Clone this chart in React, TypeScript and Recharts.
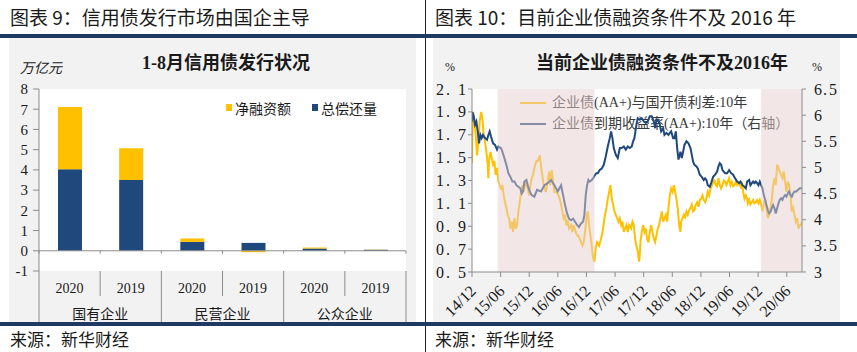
import React from 'react';
import { BarChart, Bar, XAxis, YAxis, ReferenceLine, LineChart, Line, ReferenceArea, CartesianGrid } from 'recharts';

const SERIF = '"Liberation Serif","Times New Roman","Noto Sans CJK SC",serif';
const SANS = '"Noto Sans CJK SC","Noto Sans",sans-serif';
const NAVY = '#1F497D';
const GOLD = '#FFC000';
const AXIS = '#8c8c8c';
const TEXT = '#1a1a1a';

// ---------- Chart 9 data ----------
const yearLabels = ['2020', '2019', '2020', '2019', '2020', '2019'];
const ownerGroups = ['国有企业', '民营企业', '公众企业'];
const totalRepayment = [4.03, 3.5, 0.44, 0.39, 0.11, 0.05];
const netFinancing = [3.08, 1.57, 0.17, -0.07, 0.05, 0.01];
const barTicks = [-1, 0, 1, 2, 3, 4, 5, 6, 7, 8];

// ---------- Chart 10 data (t = months since 2014/12) ----------
const dateTickMonths = [0, 6, 12, 18, 24, 30, 36, 42, 48, 54, 60, 66];
const dateTickLabels = ['14/12', '15/06', '15/12', '16/06', '16/12', '17/06', '17/12', '18/06', '18/12', '19/06', '19/12', '20/06'];
const spreadTicks = [0.5, 0.7, 0.9, 1.1, 1.3, 1.5, 1.7, 1.9, 2.1];
const yieldTicks = [3, 3.5, 4, 4.5, 5, 5.5, 6, 6.5];
const easingPeriods: [number, number][] = [[5.39, 25.68], [60.62, 69.2]];

const spreadSeries: [number, number][] = [
  [0, 1.45], [0.08, 1.7], [0.22, 1.9], [0.5, 1.82], [0.78, 1.7], [1.06, 1.52], [1.34, 1.64], [1.62, 1.82], [1.9, 1.9], [2.17, 1.85],
  [2.45, 1.7], [2.73, 1.64], [3.01, 1.55], [3.29, 1.44], [3.43, 1.32], [3.57, 1.47], [3.85, 1.55], [4.13, 1.5], [4.41, 1.44], [4.69, 1.47],
  [4.97, 1.35], [5.25, 1.41], [5.53, 1.29], [5.81, 1.26], [6.09, 1.23], [6.37, 1.26], [6.65, 1.17], [6.93, 1.11], [7.2, 1.06], [7.48, 1.0],
  [7.77, 0.97], [8.05, 0.88], [8.33, 0.94], [8.61, 0.85], [8.89, 0.97], [9.17, 0.88], [9.45, 0.91], [9.73, 1.03], [10.01, 1.11], [10.29, 1.2],
  [10.57, 1.26], [10.85, 1.2], [11.13, 1.29], [11.41, 1.26], [11.69, 1.23], [11.97, 1.17], [12.25, 1.26], [12.53, 1.32], [12.8, 1.35], [13.08, 1.41],
  [13.5, 1.47], [13.78, 1.47], [14.2, 1.52], [14.62, 1.38], [15.04, 1.26], [15.46, 1.2], [15.88, 1.29], [16.16, 1.38], [16.44, 1.26], [16.72, 1.39],
  [17.0, 1.29], [17.28, 1.2], [17.7, 1.2], [18.12, 1.17], [18.4, 1.14], [18.68, 1.09], [18.95, 1.03], [19.23, 0.97], [19.51, 1.0], [19.79, 0.91],
  [20.07, 0.94], [20.35, 0.88], [20.77, 0.91], [21.05, 0.85], [21.33, 0.91], [21.75, 0.85], [22.03, 0.82], [22.31, 0.82], [22.59, 0.79], [22.87, 0.76],
  [23.15, 0.73], [23.43, 0.76], [23.71, 0.85], [23.99, 0.97], [24.27, 1.03], [24.55, 0.91], [24.83, 0.82], [25.11, 0.73], [25.39, 0.62], [25.67, 0.59],
  [25.95, 0.71], [26.23, 0.76], [26.65, 0.73], [27.07, 0.79], [27.49, 0.88], [27.77, 0.97], [28.19, 1.06], [28.47, 1.14], [28.75, 1.2], [29.03, 1.26],
  [29.31, 1.14], [29.59, 1.09], [29.87, 1.03], [30.15, 1.0], [30.43, 0.97], [30.71, 0.94], [30.99, 0.97], [31.27, 0.91], [31.55, 0.94], [31.83, 0.85],
  [32.11, 0.88], [32.39, 0.91], [32.67, 0.85], [32.95, 0.91], [33.37, 0.88], [33.65, 0.94], [33.93, 0.91], [34.2, 0.79], [34.48, 0.73], [34.76, 0.68],
  [35.04, 0.59], [35.18, 0.65], [35.32, 0.76], [35.6, 0.85], [35.88, 0.91], [36.16, 0.85], [36.44, 0.88], [36.72, 0.79], [37.0, 0.76], [37.28, 0.85],
  [37.56, 0.91], [37.84, 0.85], [38.12, 0.79], [38.4, 0.76], [38.68, 0.82], [38.96, 0.88], [39.24, 0.91], [39.52, 0.97], [39.8, 1.03], [40.08, 0.94],
  [40.36, 0.97], [40.64, 1.0], [40.92, 0.94], [41.2, 1.06], [41.48, 1.17], [41.76, 1.23], [42.04, 1.2], [42.32, 1.26], [42.6, 1.2], [42.88, 1.14],
  [43.16, 1.05], [43.43, 0.91], [43.71, 0.85], [43.85, 0.94], [44.13, 0.97], [44.41, 1.0], [44.69, 0.98], [44.97, 1.03], [45.25, 1.0], [45.53, 1.04],
  [45.81, 1.06], [46.09, 1.09], [46.37, 1.03], [46.65, 1.04], [46.93, 1.09], [47.21, 1.11], [47.49, 1.07], [47.77, 1.13], [48.05, 1.14], [48.33, 1.17],
  [48.6, 1.13], [48.88, 1.11], [49.16, 1.14], [49.44, 1.2], [49.72, 1.17], [50.0, 1.23], [50.28, 1.25], [50.56, 1.29], [50.84, 1.3], [51.12, 1.26],
  [51.4, 1.25], [51.68, 1.32], [51.96, 1.26], [52.24, 1.23], [52.52, 1.26], [52.8, 1.3], [53.08, 1.29], [53.36, 1.26], [53.64, 1.29], [53.92, 1.32],
  [54.2, 1.26], [54.48, 1.29], [54.76, 1.25], [55.04, 1.26], [55.32, 1.29], [55.6, 1.26], [55.88, 1.28], [56.16, 1.26], [56.44, 1.23], [56.58, 1.29],
  [56.86, 1.2], [57.14, 1.14], [57.42, 1.17], [57.7, 1.14], [57.83, 1.1], [58.11, 1.13], [58.39, 1.09], [58.67, 1.11], [58.95, 1.13], [59.23, 1.1],
  [59.51, 1.11], [59.79, 1.13], [60.07, 1.1], [60.35, 1.13], [60.63, 1.09], [60.91, 1.03], [61.19, 1.09], [61.47, 1.14], [61.75, 1.06], [62.03, 0.97],
  [62.31, 1.01], [62.59, 1.06], [62.87, 1.14], [63.15, 1.26], [63.42, 1.32], [63.7, 1.26], [63.98, 1.44], [64.26, 1.41], [64.54, 1.38], [64.82, 1.35],
  [65.1, 1.32], [65.38, 1.38], [65.66, 1.29], [65.94, 1.2], [66.22, 1.29], [66.5, 1.26], [66.78, 1.17], [67.06, 1.03], [67.34, 1.06], [67.62, 1.0],
  [67.9, 0.94], [68.18, 0.97], [68.46, 0.88], [68.74, 0.91], [69.02, 0.91], [69.16, 0.94],
];

const yieldSeries: [number, number][] = [
  [0, 5.88], [0.08, 6.06], [0.36, 5.98], [0.64, 5.82], [0.92, 5.88], [1.2, 5.69], [1.48, 5.46], [1.76, 5.62], [2.03, 5.56], [2.31, 5.62],
  [2.73, 5.56], [3.15, 5.53], [3.43, 5.62], [3.71, 5.69], [3.99, 5.59], [4.41, 5.46], [4.83, 5.43], [5.25, 5.34], [5.53, 5.4], [6.09, 5.37],
  [6.37, 5.3], [6.79, 5.18], [7.2, 5.05], [7.63, 4.89], [8.05, 4.82], [8.47, 4.73], [8.89, 4.73], [9.31, 4.66], [9.73, 4.63], [10.14, 4.6],
  [10.43, 4.5], [10.71, 4.54], [10.99, 4.73], [11.41, 4.76], [11.69, 4.66], [12.1, 4.54], [12.52, 4.47], [13.08, 4.44], [13.64, 4.57], [14.48, 4.54],
  [15.18, 4.66], [15.88, 4.7], [16.58, 4.76], [17.28, 4.66], [17.98, 4.54], [18.68, 4.66], [19.1, 4.47], [19.51, 4.28], [19.93, 4.12], [20.35, 4.02],
  [20.77, 3.99], [21.19, 4.02], [21.61, 3.96], [22.03, 3.9], [22.45, 3.86], [22.87, 3.93], [23.29, 3.96], [23.57, 4.09], [23.85, 4.47], [24.13, 4.66],
  [24.41, 4.76], [24.69, 4.73], [25.11, 4.76], [25.39, 4.79], [25.81, 4.86], [26.09, 4.89], [26.37, 4.89], [26.79, 4.95], [27.21, 4.98], [27.63, 5.05],
  [28.05, 5.21], [28.47, 5.4], [28.89, 5.56], [29.17, 5.69], [29.45, 5.56], [29.73, 5.37], [30.15, 5.24], [30.57, 5.18], [30.99, 5.37], [31.41, 5.37],
  [31.83, 5.4], [32.25, 5.34], [32.67, 5.4], [33.09, 5.37], [33.5, 5.4], [33.78, 5.5], [34.06, 5.56], [34.48, 5.82], [34.76, 5.94], [35.18, 5.91],
  [35.6, 5.94], [36.02, 5.88], [36.44, 5.85], [36.86, 5.88], [37.28, 5.98], [37.7, 5.98], [38.12, 5.88], [38.4, 5.75], [38.68, 5.91], [39.1, 5.91],
  [39.38, 5.82], [39.66, 5.69], [40.08, 5.75], [40.36, 5.62], [40.78, 5.66], [41.2, 5.62], [41.48, 5.66], [41.76, 5.69], [42.18, 5.56], [42.46, 5.56],
  [42.74, 5.69], [43.02, 5.37], [43.3, 5.15], [43.71, 5.3], [43.99, 5.18], [44.27, 5.3], [44.55, 5.43], [44.97, 5.5], [45.39, 5.46], [45.81, 5.37],
  [46.09, 5.24], [46.37, 5.11], [46.65, 5.05], [47.07, 5.02], [47.35, 4.98], [47.77, 4.86], [48.18, 4.82], [48.6, 4.76], [48.88, 4.79], [49.16, 4.76],
  [49.44, 4.66], [49.86, 4.63], [50.14, 4.7], [50.56, 4.82], [50.98, 4.86], [51.4, 4.92], [51.68, 5.02], [51.96, 5.08], [52.24, 5.05], [52.52, 4.95],
  [52.8, 4.92], [53.08, 4.89], [53.5, 4.89], [53.92, 4.95], [54.34, 4.89], [54.76, 4.86], [55.18, 4.79], [55.6, 4.73], [56.02, 4.7], [56.3, 4.73],
  [56.72, 4.66], [57.14, 4.63], [57.42, 4.6], [57.7, 4.73], [58.12, 4.76], [58.39, 4.66], [58.67, 4.7], [58.95, 4.73], [59.23, 4.7], [59.51, 4.73],
  [59.79, 4.7], [60.07, 4.66], [60.35, 4.73], [60.63, 4.66], [60.91, 4.6], [61.19, 4.47], [61.47, 4.38], [61.75, 4.28], [62.03, 4.18], [62.31, 4.12],
  [62.59, 4.15], [62.87, 4.22], [63.15, 4.28], [63.42, 4.22], [63.7, 4.12], [63.98, 4.22], [64.26, 4.31], [64.54, 4.38], [64.82, 4.41], [65.1, 4.38],
  [65.38, 4.44], [65.66, 4.47], [65.94, 4.44], [66.22, 4.5], [66.5, 4.54], [66.78, 4.47], [67.06, 4.44], [67.34, 4.5], [67.62, 4.54], [68.04, 4.54],
  [68.32, 4.57], [68.74, 4.6], [69.16, 4.6],
];

// ---------- layout constants ----------
const BAR_PLOT_W = 367;
const BAR_PLOT_H = 182;
const BAND = BAR_PLOT_W / yearLabels.length;

function CatTick(p: any) {
  const { x, y, payload } = p;
  const i = Number(String(payload.value).slice(1));
  const left = x - BAND / 2;
  const right = x + BAND / 2;
  const zeroY = y - BAR_PLOT_H / 9;
  const groupStart = i % 2 === 0;
  const last = i === yearLabels.length - 1;
  return (
    <g>
      <line x1={left} x2={left} y1={y} y2={y + (groupStart ? 52 : 25)} stroke={AXIS} />
      <line x1={left} x2={left} y1={zeroY} y2={zeroY + 3} stroke={AXIS} />
      {last && <line x1={right} x2={right} y1={y} y2={y + 52} stroke={AXIS} />}
      {last && <line x1={right} x2={right} y1={zeroY} y2={zeroY + 3} stroke={AXIS} />}
      <text x={x} y={y + 17} textAnchor="middle" dominantBaseline="central" fontFamily={SERIF} fontSize={14} fill={TEXT}>
        {yearLabels[i]}
      </text>
      {groupStart && (
        <text x={right} y={y + 42} textAnchor="middle" dominantBaseline="central" fontFamily={SANS} fontSize={14} fill={TEXT}>
          {ownerGroups[i / 2]}
        </text>
      )}
    </g>
  );
}

function DateTick(p: any) {
  const { x, y, payload } = p;
  const idx = dateTickMonths.indexOf(payload.value);
  const ax = x + 5;
  const ay = y + 13;
  return (
    <text x={ax} y={ay} transform={`rotate(-45 ${ax} ${ay})`} textAnchor="end" fontFamily={SERIF} fontSize={16} fill={TEXT}>
      {dateTickLabels[idx]}
    </text>
  );
}

function splitNum(v: number) {
  const s = Number.isInteger(v) ? String(v) : v.toFixed(1);
  const [a, b] = s.split('.');
  return { a, b };
}

function LeftValTick(p: any) {
  const { x, y, payload } = p;
  const { a, b } = splitNum(payload.value);
  return (
    <text x={x} y={y} dy="0.35em" textAnchor="end" fontFamily={SERIF} fontSize={16} fill={TEXT}>
      <tspan>{a}</tspan>
      {b !== undefined && <tspan dx={2}>.</tspan>}
      {b !== undefined && <tspan dx={8}>{b}</tspan>}
    </text>
  );
}

function RightValTick(p: any) {
  const { x, y, payload } = p;
  const { a, b } = splitNum(payload.value);
  return (
    <text x={x} y={y} dy="0.35em" textAnchor="start" fontFamily={SERIF} fontSize={16} fill={TEXT}>
      <tspan>{a}</tspan>
      {b !== undefined && <tspan dx={1}>.</tspan>}
      {b !== undefined && <tspan dx={2}>{b}</tspan>}
    </text>
  );
}

const abs = (l: number, t: number, extra: React.CSSProperties = {}): React.CSSProperties => ({ position: 'absolute', left: l, top: t, ...extra });

export default function App() {
  const barData = yearLabels.map((_, i) => ({ key: `c${i}`, repay: totalRepayment[i], net: netFinancing[i] }));
  const spreadData = spreadSeries.map(([t, v]) => ({ t, v }));
  const yieldData = yieldSeries.map(([t, v]) => ({ t, v }));

  return (
    <div style={abs(0, 0, { width: 857, height: 352, background: '#fff', overflow: 'hidden', fontFamily: SANS, color: TEXT })}>
      {/* divider */}
      <div style={abs(425, 0, { width: 1, height: 352, background: '#222' })} />
      {/* titles */}
      <div style={abs(10, 5, { fontSize: 19, lineHeight: '24px', whiteSpace: 'nowrap' })}>图表 9：信用债发行市场由国企主导</div>
      <div style={abs(435, 5, { fontSize: 19, lineHeight: '24px', whiteSpace: 'nowrap' })}>图表 10：目前企业债融资条件不及 2016 年</div>
      {/* gray panels */}
      <div style={abs(9, 38, { width: 407, height: 284, background: '#F2F2F2' })} />
      <div style={abs(433, 38, { width: 407, height: 284, background: '#F2F2F2' })} />

      {/* ---------- Chart 9 ---------- */}
      <div style={abs(126, 52, { width: 200, textAlign: 'center', fontFamily: SERIF, fontWeight: 700, fontSize: 18, lineHeight: '22px', whiteSpace: 'nowrap' })}>1-8月信用债发行状况</div>
      <div style={abs(20, 58, { fontSize: 14, lineHeight: '18px', fontStyle: 'italic' })}>万亿元</div>
      <div style={abs(9, 38)}>
        <BarChart width={407} height={292} data={barData} margin={{ top: 51, right: 10, left: 0, bottom: 8 }} stackOffset="sign" barSize={24}>
          <CartesianGrid fill="#fff" stroke="none" horizontal={false} vertical={false} />
          <XAxis dataKey="key" type="category" interval={0} height={51} axisLine={false} tickLine={false} tickSize={0} tickMargin={0} tick={(p: any) => <CatTick {...p} />} />
          <YAxis domain={[-1, 8]} ticks={barTicks} interval={0} width={30} axisLine={{ stroke: AXIS }} tickLine={{ stroke: AXIS }} tickSize={6} tickMargin={5}
            tick={{ fontFamily: SERIF, fontSize: 15, fill: TEXT }} />
          <Bar dataKey="repay" stackId="s" fill={NAVY} isAnimationActive={false} />
          <Bar dataKey="net" stackId="s" fill={GOLD} isAnimationActive={false} />
          <ReferenceLine y={0} stroke={AXIS} />
        </BarChart>
      </div>
      {/* legend chart 9 */}
      <div style={abs(226, 104, { width: 6, height: 7, background: GOLD })} />
      <div style={abs(235, 98, { fontSize: 14, lineHeight: '20px', whiteSpace: 'nowrap' })}>净融资额</div>
      <div style={abs(312, 104, { width: 6, height: 7, background: NAVY })} />
      <div style={abs(321, 98, { fontSize: 14, lineHeight: '20px', whiteSpace: 'nowrap' })}>总偿还量</div>

      {/* ---------- Chart 10 ---------- */}
      <div style={abs(536, 52, { width: 200, textAlign: 'center', fontFamily: SERIF, fontWeight: 700, fontSize: 18, lineHeight: '22px', whiteSpace: 'nowrap' })}>当前企业债融资条件不及2016年</div>
      <div style={abs(445, 60, { fontSize: 12, lineHeight: '14px', fontFamily: SERIF })}>%</div>
      <div style={abs(812, 60, { fontSize: 12, lineHeight: '14px', fontFamily: SERIF })}>%</div>
      {/* plot background (below the svg so the shading tints the legend too) */}
      <div style={abs(472, 89, { width: 330, height: 183, background: '#fff' })} />
      {/* legend chart 10 */}
      <div style={abs(520, 102, { width: 26, height: 2, background: GOLD })} />
      <div style={abs(552, 94, { fontFamily: SERIF, fontSize: 14, lineHeight: '18px', whiteSpace: 'nowrap', color: '#3a3a3a' })}>企业债(AA+)与国开债利差:10年</div>
      <div style={abs(520, 123, { width: 26, height: 2, background: NAVY })} />
      <div style={abs(552, 115, { fontFamily: SERIF, fontSize: 14, lineHeight: '18px', whiteSpace: 'nowrap', color: '#3a3a3a' })}>企业债到期收益率(AA+):10年（右轴）</div>
      <div style={abs(433, 38)}>
        <LineChart width={407} height={284} margin={{ top: 51, right: 0, left: 0, bottom: 0 }}>
          <XAxis dataKey="t" type="number" domain={[0, 69.2]} allowDataOverflow ticks={dateTickMonths} interval={0} height={50}
            axisLine={{ stroke: AXIS }} tickLine={{ stroke: AXIS }} tickSize={5} tickMargin={2} tick={(p: any) => <DateTick {...p} />} />
          <YAxis yAxisId="l" domain={[0.5, 2.1]} ticks={spreadTicks} interval={0} width={39} allowDataOverflow
            axisLine={{ stroke: AXIS }} tickLine={{ stroke: AXIS }} tickSize={4} tickMargin={2} tick={(p: any) => <LeftValTick {...p} />} />
          <YAxis yAxisId="r" orientation="right" domain={[3, 6.5]} ticks={yieldTicks} interval={0} width={38} allowDataOverflow
            axisLine={{ stroke: AXIS }} tickLine={{ stroke: AXIS }} tickSize={4} tickMargin={8} tick={(p: any) => <RightValTick {...p} />} />
          <Line yAxisId="l" data={spreadData} dataKey="v" stroke={GOLD} strokeWidth={2} dot={false} isAnimationActive={false} />
          <Line yAxisId="r" data={yieldData} dataKey="v" stroke={NAVY} strokeWidth={2} dot={false} isAnimationActive={false} />
          {easingPeriods.map(([a, b], i) => (
            <ReferenceArea key={i} yAxisId="l" x1={a} x2={b} y1={0.5} y2={2.1} fill="rgb(232,206,206)" fillOpacity={0.5} stroke="none"
              ifOverflow="hidden" {...({ zIndex: 450 } as any)} />
          ))}
        </LineChart>
      </div>

      {/* navy rules */}
      <div style={abs(0, 34, { width: 857, height: 3.5, background: '#1F3864' })} />
      <div style={abs(0, 322, { width: 857, height: 3.5, background: '#1F3864' })} />
      {/* sources */}
      <div style={abs(10, 328, { fontSize: 17, lineHeight: '22px', whiteSpace: 'nowrap' })}>来源：新华财经</div>
      <div style={abs(435, 328, { fontSize: 17, lineHeight: '22px', whiteSpace: 'nowrap' })}>来源：新华财经</div>
    </div>
  );
}
